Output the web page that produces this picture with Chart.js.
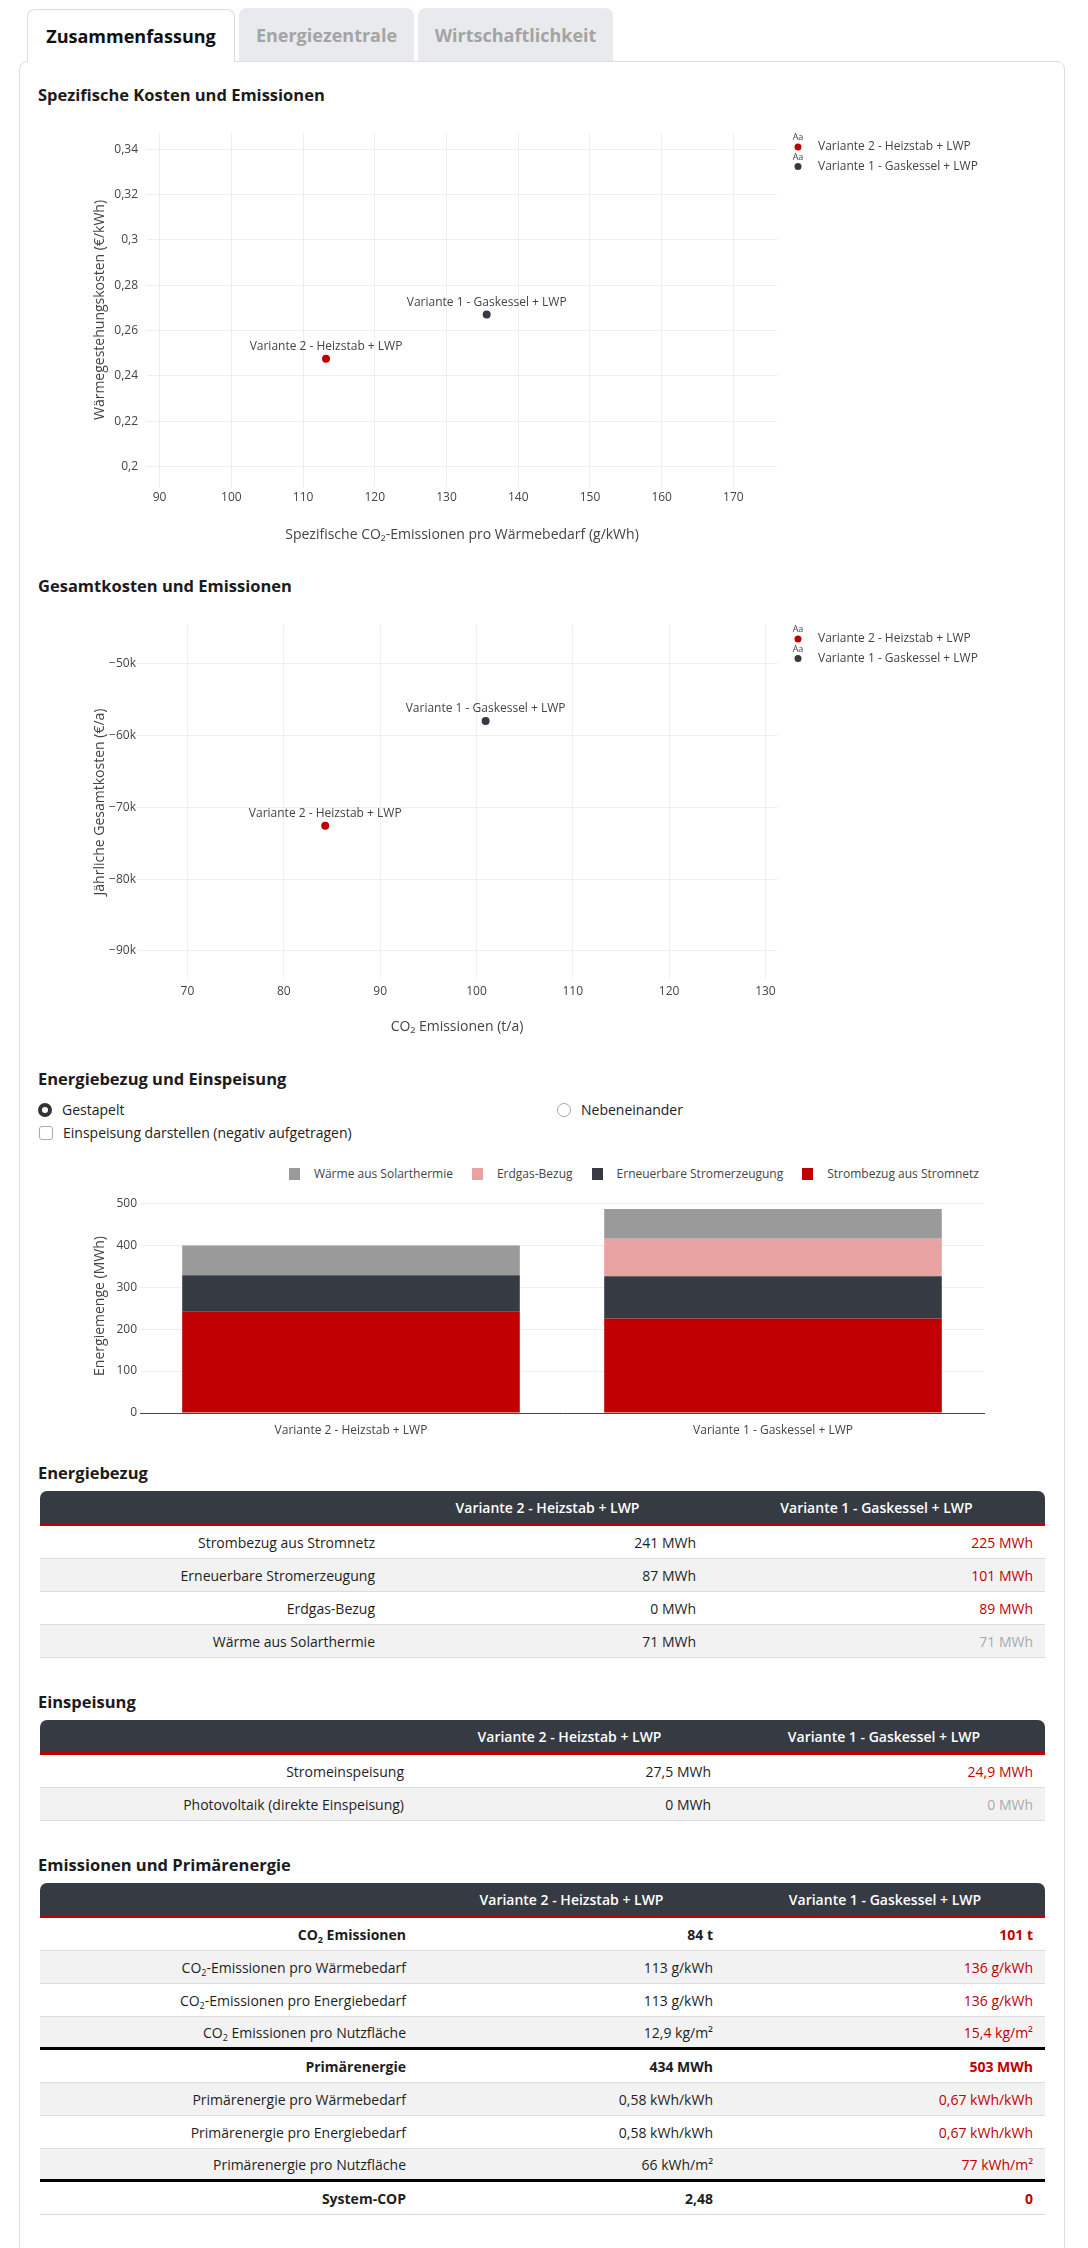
<!DOCTYPE html>
<html lang="de">
<head>
<meta charset="utf-8">
<title>Zusammenfassung</title>
<script src="https://cdn.jsdelivr.net/npm/chart.js@4.4.1/dist/chart.umd.min.js"></script>
<style>
  * { box-sizing: border-box; }
  html, body { margin: 0; padding: 0; background: #fff; }
  body { width: 1088px; height: 2248px; position: relative; overflow: hidden; font-family: "Open Sans", sans-serif; color: #222; }
  .tab { position: absolute; height: 53px; border-radius: 8px 8px 0 0; font-size: 18px; font-weight: 700; display: flex; align-items: center; justify-content: center; }
  .tab.active { left: 27px; top: 9px; width: 208px; background: #fff; border: 1px solid #ddd; border-bottom: none; z-index: 2; color: #111; }
  .tab.off { top: 8px; background: #e8eaed; color: #a4a4a4; }
  .panel { position: absolute; left: 19px; top: 61px; width: 1046px; height: 2240px; border: 1px solid #ddd; border-radius: 8px; }
  h3 { position: absolute; left: 38px; margin: 0; font-size: 16.5px; line-height: 20px; font-weight: 700; color: #1b1b1b; }
  canvas { position: absolute; left: 20px; }
  .opt { position: absolute; font-size: 14px; line-height: 20px; display: flex; align-items: center; color: #222; }
  .opt input { appearance: none; -webkit-appearance: none; margin: 0 10px 0 0; width: 14px; height: 14px; border: 1px solid #aaa; background: #fff; }
  .opt input[type=radio] { border-radius: 50%; }
  .opt input[type=radio]:checked { border: 4px solid #333; }
  .opt input[type=checkbox] { border-radius: 3px; }
  #barLegend { position: absolute; top: 1166px; right: 109px; display: flex; align-items: center; font-size: 12px; line-height: 16px; color: #444; }
  #barLegend .item { display: flex; align-items: center; margin-left: 19px; }
  #barLegend .sq { width: 11px; height: 12px; margin-right: 14px; }
  table { position: absolute; left: 40px; width: 1005px; border-collapse: separate; border-spacing: 0; table-layout: fixed; font-size: 14px; }
  th { height: 35px; background: #363a42; color: #fff; font-weight: 600; text-align: center; border-bottom: 3px solid #c00000; padding: 0; }
  th:first-child { border-top-left-radius: 7px; }
  th:last-child { border-top-right-radius: 7px; }
  td { height: 33px; padding: 0 12px; text-align: right; border-bottom: 1px solid #ddd; color: #1e1e1e; }
  tr:nth-child(even) td { background: #f2f2f2; }
  tr.bold td { font-weight: 700; }
  tr.thick td { height: 33px; border-bottom: 3px solid #000; }
  td.up { color: #c00000; }
  td.same { color: #aaa; }
  sub { font-size: 9px; vertical-align: -3px; line-height: 0; }
</style>
</head>
<body>
<div class="tab active">Zusammenfassung</div>
<div class="tab off" style="left:239px;width:175px">Energiezentrale</div>
<div class="tab off" style="left:418px;width:195px">Wirtschaftlichkeit</div>
<div class="panel"></div>

<h3 style="top:85px">Spezifische Kosten und Emissionen</h3>
<canvas id="specChart" width="1044" height="440" style="top:110px"></canvas>

<h3 style="top:576px">Gesamtkosten und Emissionen</h3>
<canvas id="totalChart" width="1044" height="440" style="top:602px"></canvas>

<h3 style="top:1069px">Energiebezug und Einspeisung</h3>
<label class="opt" style="left:38px;top:1100px"><input type="radio" name="mode" checked>Gestapelt</label>
<label class="opt" style="left:557px;top:1100px"><input type="radio" name="mode">Nebeneinander</label>
<label class="opt" style="left:39px;top:1123px"><input type="checkbox">Einspeisung darstellen (negativ aufgetragen)</label>
<div id="barLegend"></div>
<canvas id="energyChart" width="1044" height="260" style="top:1185px"></canvas>

<h3 style="top:1463px">Energiebezug</h3>
<table id="bezugTable" style="top:1491px"></table>

<h3 style="top:1692px">Einspeisung</h3>
<table id="einspTable" style="top:1720px"></table>

<h3 style="top:1855px">Emissionen und Primärenergie</h3>
<table id="emisTable" style="top:1883px"></table>

<script>
// VARIANTS
const variantNames = ["Variante 2 - Heizstab + LWP", "Variante 1 - Gaskessel + LWP"];

// SCATTER DATA
const specEmissions = [113.2, 135.6]; // g/kWh
const specCosts = [0.2475, 0.2671]; // €/kWh
const totalEmissions = [84.3, 100.95]; // t/a
const totalCosts = [-72550, -57980]; // €/a

// AXIS RANGES AND TICKS
const specXRange = [88.24, 176.08];
const specYRange = [0.1909, 0.3472];
const specXTicks = [90, 100, 110, 120, 130, 140, 150, 160, 170];
const specYTicks = [0.2, 0.22, 0.24, 0.26, 0.28, 0.3, 0.32, 0.34];
const totalXRange = [64.76, 131.2];
const totalYRange = [-93900, -44600];
const totalXTicks = [70, 80, 90, 100, 110, 120, 130];
const totalYTicks = [-90000, -80000, -70000, -60000, -50000];
const energyYMax = 510;
const energyYTicks = [0, 100, 200, 300, 400, 500];

// ENERGIEBEZUG (MWh)
const bezugLabels = ["Strombezug aus Stromnetz", "Erneuerbare Stromerzeugung", "Erdgas-Bezug", "Wärme aus Solarthermie"];
const stromnetz = [241, 225];
const erneuerbar = [87, 101];
const erdgas = [0, 89];
const solarthermie = [71, 71];

// EINSPEISUNG (MWh)
const einspLabels = ["Stromeinspeisung", "Photovoltaik (direkte Einspeisung)"];
const stromeinspeisung = [27.5, 24.9];
const pvEinspeisung = [0, 0];

// EMISSIONEN UND PRIMÄRENERGIE
const emisLabels = [
  "CO<sub>2</sub> Emissionen",
  "CO<sub>2</sub>-Emissionen pro Wärmebedarf",
  "CO<sub>2</sub>-Emissionen pro Energiebedarf",
  "CO<sub>2</sub> Emissionen pro Nutzfläche",
  "Primärenergie",
  "Primärenergie pro Wärmebedarf",
  "Primärenergie pro Energiebedarf",
  "Primärenergie pro Nutzfläche",
  "System-COP",
];
const emisVariante2 = ["84 t", "113 g/kWh", "113 g/kWh", "12,9 kg/m²", "434 MWh", "0,58 kWh/kWh", "0,58 kWh/kWh", "66 kWh/m²", "2,48"];
const emisVariante1 = ["101 t", "136 g/kWh", "136 g/kWh", "15,4 kg/m²", "503 MWh", "0,67 kWh/kWh", "0,67 kWh/kWh", "77 kWh/m²", "0"];
const emisBoldRows = [0, 4, 8];
const emisThickRows = [3, 7];

// COLOURS
const RED = "#c00000";
const DARK = "#363a42";
const PINK = "#e8a2a2";
const GREY = "#9a9a9a";
const variantColors = [RED, DARK];

Chart.defaults.font.family = "'Open Sans', sans-serif";
Chart.defaults.font.size = 12;
Chart.defaults.color = "#444";

const deNumber = (v) => String(v).replace(".", ",");
const fixedTicks = (values) => (scale) => {
  scale.ticks = values.map((v) => ({ value: v }));
};

// LABELS ABOVE POINTS
const pointLabelPlugin = {
  id: "pointLabels",
  afterDatasetsDraw(chart) {
    const { ctx } = chart;
    ctx.save();
    ctx.font = "12px 'Open Sans'";
    ctx.fillStyle = "#444";
    ctx.textAlign = "center";
    ctx.textBaseline = "middle";
    chart.data.datasets.forEach((ds, i) => {
      chart.getDatasetMeta(i).data.forEach((pt) => ctx.fillText(ds.label, pt.x, pt.y - 12));
    });
    ctx.restore();
  },
};

// PLOTLY-LIKE LEGEND ON THE RIGHT
const sideLegendPlugin = {
  id: "sideLegend",
  afterDraw(chart) {
    const { ctx, chartArea } = chart;
    const x = chartArea.right + 21;
    ctx.save();
    ctx.textBaseline = "middle";
    chart.data.datasets.forEach((ds, i) => {
      const y = chartArea.top + 14 + i * 19.5;
      ctx.font = "9px 'Open Sans'";
      ctx.fillStyle = "#444";
      ctx.textAlign = "center";
      ctx.fillText("Aa", x, y - 9.5);
      ctx.beginPath();
      ctx.arc(x, y, 3.5, 0, Math.PI * 2);
      ctx.fillStyle = ds.backgroundColor;
      ctx.fill();
      ctx.font = "12px 'Open Sans'";
      ctx.fillStyle = "#444";
      ctx.textAlign = "left";
      ctx.fillText(ds.label, x + 20, y);
    });
    ctx.restore();
  },
};

// BUILD SCATTER CHART
function buildScatter(id, xs, ys, xRange, yRange, xTicks, yTicks, xTitle, yTitle, yFormat, yWidth, yTickPad, xTickPad) {
  const datasets = variantNames.map((name, i) => ({
    label: name,
    data: [{ x: xs[i], y: ys[i] }],
    backgroundColor: variantColors[i],
    borderWidth: 0,
    pointRadius: 4,
  }));
  return new Chart(document.getElementById(id), {
    type: "scatter",
    data: { datasets },
    options: {
      responsive: false,
      animation: false,
      layout: { padding: { left: 0, right: 287, top: 23, bottom: 0 } },
      plugins: { legend: { display: false }, tooltip: { enabled: false } },
      scales: {
        x: {
          min: xRange[0],
          max: xRange[1],
          grid: { color: "#eee", drawTicks: false },
          border: { display: false },
          afterBuildTicks: fixedTicks(xTicks),
          ticks: { padding: xTickPad },
          title: { display: true, text: xTitle, color: "#444", font: { size: 14 }, padding: { top: 0, bottom: 6.6 } },
          afterFit: (scale) => { scale.height = 63; },
        },
        y: {
          min: yRange[0],
          max: yRange[1],
          grid: { color: "#eee", drawTicks: false },
          border: { display: false },
          afterBuildTicks: fixedTicks(yTicks),
          ticks: { padding: yTickPad, callback: yFormat },
          title: { display: true, text: yTitle, color: "#444", font: { size: 14 }, padding: { top: 71.6, bottom: 0 } },
          afterFit: (scale) => { scale.width = yWidth; },
        },
      },
    },
    plugins: [pointLabelPlugin, sideLegendPlugin],
  });
}

buildScatter("specChart", specEmissions, specCosts, specXRange, specYRange, specXTicks, specYTicks,
  "Spezifische CO₂-Emissionen pro Wärmebedarf (g/kWh)", "Wärmegestehungskosten (€/kWh)",
  (v) => deNumber(Number(v.toFixed(2))), 127, 9, 3);

buildScatter("totalChart", totalEmissions, totalCosts, totalXRange, totalYRange, totalXTicks, totalYTicks,
  "CO₂ Emissionen (t/a)", "Jährliche Gesamtkosten (€/a)",
  (v) => "\u2212" + Math.abs(Math.round(v / 1000)) + "k", 117, 1, 5);

// STACKED ENERGY BAR CHART
const energyDatasets = [
  { label: bezugLabels[0], data: stromnetz, backgroundColor: RED },
  { label: bezugLabels[1], data: erneuerbar, backgroundColor: DARK },
  { label: bezugLabels[2], data: erdgas, backgroundColor: PINK },
  { label: bezugLabels[3], data: solarthermie, backgroundColor: GREY },
];

new Chart(document.getElementById("energyChart"), {
  type: "bar",
  data: { labels: variantNames, datasets: energyDatasets },
  options: {
    responsive: false,
    animation: false,
    layout: { padding: { left: 0, right: 80, top: 14, bottom: 0 } },
    datasets: { bar: { categoryPercentage: 0.8, barPercentage: 1, borderWidth: 0 } },
    plugins: { legend: { display: false }, tooltip: { enabled: false } },
    scales: {
      x: {
        stacked: true,
        grid: { display: false },
        border: { display: true, color: "#444", width: 1 },
        ticks: { padding: 2 },
        afterFit: (scale) => { scale.height = 32; },
      },
      y: {
        stacked: true,
        min: 0,
        max: energyYMax,
        grid: { color: "#eee", drawTicks: false },
        border: { display: false },
        afterBuildTicks: fixedTicks(energyYTicks),
        ticks: { padding: 3 },
        title: { display: true, text: "Energiemenge (MWh)", color: "#444", font: { size: 14 }, padding: { top: 71.6, bottom: 0 } },
        afterFit: (scale) => { scale.width = 120; },
      },
    },
  },
});

// HTML LEGEND FOR BAR CHART (reverse stack order, like the original)
const barLegend = document.getElementById("barLegend");
energyDatasets.slice().reverse().forEach((ds) => {
  const item = document.createElement("div");
  item.className = "item";
  item.innerHTML = `<span class="sq" style="background:${ds.backgroundColor}"></span>${ds.label}`;
  barLegend.appendChild(item);
});

// BUILD TABLE
function buildTable(id, colWidths, labels, v2, v1, boldRows = [], thickRows = []) {
  const table = document.getElementById(id);
  let html = "<colgroup>" + colWidths.map((w) => `<col style="width:${w}px">`).join("") + "</colgroup>";
  html += `<thead><tr><th></th><th>${variantNames[0]}</th><th>${variantNames[1]}</th></tr></thead><tbody>`;
  labels.forEach((label, i) => {
    const cls = [boldRows.includes(i) ? "bold" : "", thickRows.includes(i) ? "thick" : ""].join(" ").trim();
    const cmp = v1[i] === v2[i] ? "same" : "up";
    html += `<tr class="${cls}"><td>${label}</td><td>${v2[i]}</td><td class="${cmp}">${v1[i]}</td></tr>`;
  });
  table.innerHTML = html + "</tbody>";
}

const mwh = (v) => deNumber(v) + " MWh";
const bezugValues = [stromnetz, erneuerbar, erdgas, solarthermie];
buildTable("bezugTable", [347, 321, 337], bezugLabels,
  bezugValues.map((s) => mwh(s[0])), bezugValues.map((s) => mwh(s[1])));

const einspValues = [stromeinspeisung, pvEinspeisung];
buildTable("einspTable", [376, 307, 322], einspLabels,
  einspValues.map((s) => mwh(s[0])), einspValues.map((s) => mwh(s[1])));

buildTable("emisTable", [378, 307, 320], emisLabels, emisVariante2, emisVariante1, emisBoldRows, emisThickRows);
</script>
</body>
</html>
